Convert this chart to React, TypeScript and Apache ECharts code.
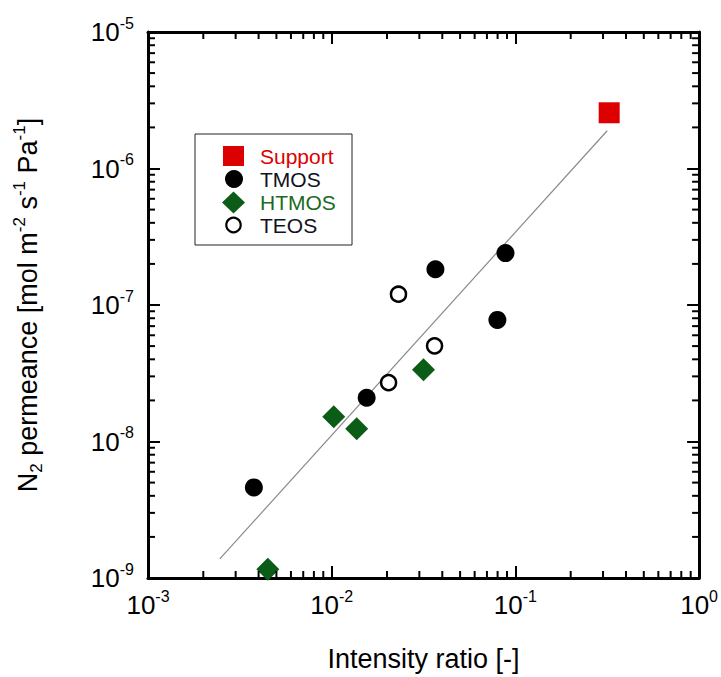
import React, { useEffect, useRef } from 'react';
import * as echarts from 'echarts';

// ---- data ----
const xMin = 1e-3;
const xMax = 1;
const yMin = 1e-9;
const yMax = 1e-5;
const minorMultipliers = [2, 3, 4, 5, 6, 7, 8, 9];
const xDecades = [1e-3, 1e-2, 1e-1];
const yDecades = [1e-9, 1e-8, 1e-7, 1e-6];

const supportX = [0.324];
const supportY = [2.56e-6];
const tmosX = [0.00377, 0.0155, 0.0367, 0.0883, 0.0798];
const tmosY = [4.61e-9, 2.09e-8, 1.83e-7, 2.4e-7, 7.78e-8];
const htmosX = [0.00449, 0.01026, 0.01368, 0.0316];
const htmosY = [1.16e-9, 1.52e-8, 1.24e-8, 3.36e-8];
const teosX = [0.0231, 0.0363, 0.0204];
const teosY = [1.2e-7, 5.02e-8, 2.7e-8];
const fitX = [0.00246, 0.316];
const fitY = [1.38e-9, 1.89e-6];

const legendNames = ['Support', 'TMOS', 'HTMOS', 'TEOS'];

const RED = '#dd0000';
const GREEN = '#0b5c16';
const FONT = '"Liberation Sans", Arial, sans-serif';

const zip = (xs: number[], ys: number[]) => xs.map((x, i) => [x, ys[i]]);

const xMinorTicks: number[] = [];
xDecades.forEach((d) => minorMultipliers.forEach((m) => xMinorTicks.push(d * m)));
const yMinorTicks: number[] = [];
yDecades.forEach((d) => minorMultipliers.forEach((m) => yMinorTicks.push(d * m)));

const powLabel = (v: number) => `{b|10}{s|${Math.round(Math.log10(v))}}`;
const labelRich = {
  b: { fontSize: 26, fontFamily: FONT, color: '#000', lineHeight: 34 },
  s: { fontSize: 16, fontFamily: FONT, color: '#000', verticalAlign: 'top', lineHeight: 16 },
};

export default function App() {
  const ref = useRef<HTMLDivElement>(null);

  useEffect(() => {
    if (!ref.current) return;
    const chart = echarts.init(ref.current, undefined, { renderer: 'svg' });

    const axisLine = { lineStyle: { color: '#000', width: 3 } };
    const axisTick = { inside: true, length: 12, lineStyle: { color: '#000', width: 2 } };

    const rows = [156, 179, 202, 225];
    const legendColors = [RED, '#111122', '#1b6b24', '#111122'];

    const option: any = {
      animation: false,
      backgroundColor: '#fff',
      grid: { left: 148, top: 32, width: 552, height: 548 },
      xAxis: [
        {
          type: 'log',
          logBase: 10,
          min: xMin,
          max: xMax,
          position: 'bottom',
          axisLine,
          axisTick,
          splitLine: { show: false },
          axisLabel: { formatter: powLabel, rich: labelRich, margin: 10 },
          name: 'Intensity ratio [-]',
          nameLocation: 'middle',
          nameGap: 67,
          nameTextStyle: { fontSize: 27, fontFamily: FONT, color: '#000' },
        },
        {
          type: 'log',
          logBase: 10,
          min: xMin,
          max: xMax,
          position: 'top',
          axisLine,
          axisTick,
          splitLine: { show: false },
          axisLabel: { show: false },
        },
      ],
      yAxis: [
        {
          type: 'log',
          logBase: 10,
          min: yMin,
          max: yMax,
          position: 'left',
          axisLine,
          axisTick,
          splitLine: { show: false },
          axisLabel: { formatter: powLabel, rich: labelRich, margin: 14 },
          name: '{t|N}{sub|2}{t| permeance [mol m}{sup|-2}{t| s}{sup|-1}{t| Pa}{sup|-1}{t|]}',
          nameLocation: 'middle',
          nameGap: 103,
          nameTextStyle: {
            rich: {
              t: { fontSize: 27, fontFamily: FONT, color: '#000', lineHeight: 34 },
              sub: { fontSize: 17, fontFamily: FONT, color: '#000', verticalAlign: 'bottom', lineHeight: 17 },
              sup: { fontSize: 17, fontFamily: FONT, color: '#000', verticalAlign: 'top', lineHeight: 17 },
            },
          },
        },
        {
          type: 'log',
          logBase: 10,
          min: yMin,
          max: yMax,
          position: 'right',
          axisLine,
          axisTick,
          splitLine: { show: false },
          axisLabel: { show: false },
        },
      ],
      series: [
        {
          name: 'fit',
          type: 'line',
          data: zip(fitX, fitY),
          symbol: 'none',
          lineStyle: { color: '#8a8a8a', width: 1.2 },
          z: 1,
        },
        {
          name: 'xMinor',
          type: 'custom',
          data: xMinorTicks.map((v) => [v, 1e-7]),
          renderItem: (params: any, api: any) => {
            const p = api.coord([api.value(0), api.value(1)]);
            const cs = params.coordSys;
            const bottom = cs.y + cs.height;
            const top = cs.y;
            return {
              type: 'group',
              children: [
                { type: 'line', shape: { x1: p[0], y1: bottom, x2: p[0], y2: bottom - 7 }, style: { stroke: '#000', lineWidth: 2 } },
                { type: 'line', shape: { x1: p[0], y1: top, x2: p[0], y2: top + 7 }, style: { stroke: '#000', lineWidth: 2 } },
              ],
            };
          },
          silent: true,
          z: 5,
        },
        {
          name: 'yMinor',
          type: 'custom',
          data: yMinorTicks.map((v) => [0.01, v]),
          renderItem: (params: any, api: any) => {
            const p = api.coord([api.value(0), api.value(1)]);
            const cs = params.coordSys;
            const left = cs.x;
            const right = cs.x + cs.width;
            return {
              type: 'group',
              children: [
                { type: 'line', shape: { x1: left, y1: p[1], x2: left + 7, y2: p[1] }, style: { stroke: '#000', lineWidth: 2 } },
                { type: 'line', shape: { x1: right, y1: p[1], x2: right - 7, y2: p[1] }, style: { stroke: '#000', lineWidth: 2 } },
              ],
            };
          },
          silent: true,
          z: 5,
        },
        {
          name: legendNames[0],
          type: 'scatter',
          data: zip(supportX, supportY),
          symbol: 'rect',
          symbolSize: 21,
          itemStyle: { color: RED, opacity: 1 },
          z: 3,
        },
        {
          name: legendNames[1],
          type: 'scatter',
          data: zip(tmosX, tmosY),
          symbol: 'circle',
          symbolSize: 18,
          itemStyle: { color: '#000', opacity: 1 },
          z: 3,
        },
        {
          name: legendNames[2],
          type: 'scatter',
          data: zip(htmosX, htmosY),
          symbol: 'diamond',
          symbolSize: 23,
          itemStyle: { color: GREEN, opacity: 1 },
          z: 3,
        },
        {
          name: legendNames[3],
          type: 'scatter',
          data: zip(teosX, teosY),
          symbol: 'circle',
          symbolSize: 15,
          itemStyle: { color: '#fff', borderColor: '#000', borderWidth: 2.5, opacity: 1 },
          z: 3,
        },
      ],
      graphic: [
        {
          type: 'rect',
          shape: { x: 195, y: 134, width: 157, height: 111 },
          style: { fill: '#fff', stroke: '#222', lineWidth: 1 },
          z: 100,
        },
        { type: 'rect', shape: { x: 223, y: 146, width: 21, height: 20 }, style: { fill: RED }, z: 101 },
        { type: 'circle', shape: { cx: 234, cy: 179, r: 9 }, style: { fill: '#000' }, z: 101 },
        {
          type: 'polygon',
          shape: { points: [[233.5, 191.5], [245, 202.5], [233.5, 213.5], [222, 202.5]] },
          style: { fill: GREEN },
          z: 101,
        },
        { type: 'circle', shape: { cx: 233.5, cy: 225, r: 7.2 }, style: { fill: '#fff', stroke: '#000', lineWidth: 2.2 }, z: 101 },
        ...legendNames.map((n, i) => ({
          type: 'text',
          x: 260,
          y: rows[i],
          style: {
            text: n,
            fill: legendColors[i],
            font: `21px ${FONT}`,
            verticalAlign: 'middle',
            align: 'left',
          },
          z: 101,
        })),
      ],
    };

    chart.setOption(option);
    return () => chart.dispose();
  }, []);

  return (
    <div
      ref={ref}
      style={{ position: 'fixed', left: 0, top: 0, width: 721, height: 677, background: '#fff' }}
    />
  );
}
